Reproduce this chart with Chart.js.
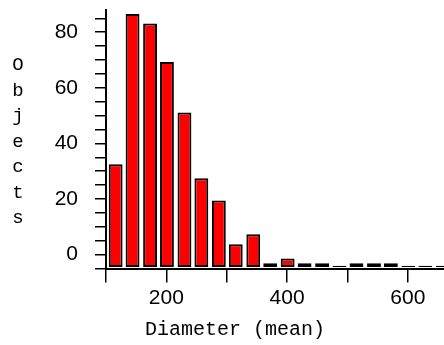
<!DOCTYPE html>
<html>
<head>
<meta charset="utf-8">
<script src="https://cdn.jsdelivr.net/npm/chart.js@4/dist/chart.umd.min.js"></script>
<style>
  body { margin: 0; background: #fff; }
  #wrap { position: relative; width: 444px; height: 345px; }
  .ttl { position: absolute; font-family: 'Liberation Mono', 'DejaVu Sans Mono', monospace; color: #000; }
  #ytitle { left: 8px; top: 53px; width: 20px; font-size: 19px; line-height: 25.5px; text-align: center; }
  #xtitle { left: 145px; top: 320px; font-size: 20px; line-height: 20px; white-space: nowrap; }
</style>
</head>
<body>
<div id="wrap">
  <canvas id="myChart"></canvas>
  <div id="ytitle" class="ttl">O<br>b<br>j<br>e<br>c<br>t<br>s</div>
  <div id="xtitle" class="ttl">Diameter (mean)</div>
</div>
<script>
// bin centres (Diameter, mean) and the bar heights read against the y labels
const binCenters = [116, 144, 173, 201, 230, 258, 287, 315, 344, 372, 401, 429, 458, 487, 515, 544, 572, 601, 629, 658];
const objects = [32.5, 86.6, 83.1, 69.3, 51.1, 27.5, 19.5, 3.7, 7.3, -3.1, -1.4, -3.1, -3.1, -4.0, -3.1, -3.1, -3.1, -4.0, -4.0, -4.0];
const xTicks = [100, 200, 300, 400, 500, 600];
const xLabels = [200, 400, 600];
const yTicks = [-5, 0, 5, 10, 15, 20, 25, 30, 35, 40, 45, 50, 55, 60, 65, 70, 75, 80, 85];
const yLabels = [0, 20, 40, 60, 80];

const tickFont = { family: "'Liberation Sans', Arial, sans-serif", size: 21 };

const points = binCenters.map((x, i) => ({ x: x, y: objects[i] }));

const config = {
  type: 'bar',
  data: {
    datasets: [{
      data: points,
      base: -4.5,
      backgroundColor: '#ff0000',
      borderColor: '#000',
      borderWidth: 2,
      borderSkipped: false,
      barPercentage: 0.82,
      categoryPercentage: 1
    }]
  },
  options: {
    responsive: true,
    maintainAspectRatio: false,
    animation: false,
    layout: { padding: { top: 10, left: 0, right: 0, bottom: 0 } },
    plugins: { legend: { display: false }, tooltip: { enabled: false } },
    scales: {
      x: {
        type: 'linear',
        min: 100,
        max: 660,
        offset: false,
        grid: { offset: false, drawOnChartArea: false, drawTicks: true, tickLength: 14, color: '#000', lineWidth: 1.5 },
        border: { display: true, color: '#000', width: 2 },
        afterBuildTicks: s => { s.ticks = xTicks.map(v => ({ value: v })); },
        afterFit: s => { s.height = 76.5; s.paddingLeft = 0; s.paddingRight = 0; },
        ticks: {
          autoSkip: false, maxRotation: 0, color: '#000', font: tickFont, padding: 3,
          callback: v => xLabels.includes(v) ? String(v) : ''
        }
      },
      y: {
        min: -5,
        max: 88,
        grid: { drawOnChartArea: false, drawTicks: true, tickLength: 11, color: '#000', lineWidth: 1.5 },
        border: { display: true, color: '#000', width: 2 },
        afterBuildTicks: s => { s.ticks = yTicks.map(v => ({ value: v })); },
        afterFit: s => { s.width = 106; s.paddingTop = 0; s.paddingBottom = 0; },
        ticks: {
          autoSkip: false, color: '#000', font: tickFont, padding: 17,
          callback: v => yLabels.includes(v) ? String(v) : ''
        }
      }
    }
  }
};

const ctx = document.getElementById('myChart');
const myChart = new Chart(ctx, config);
</script>
</body>
</html>
